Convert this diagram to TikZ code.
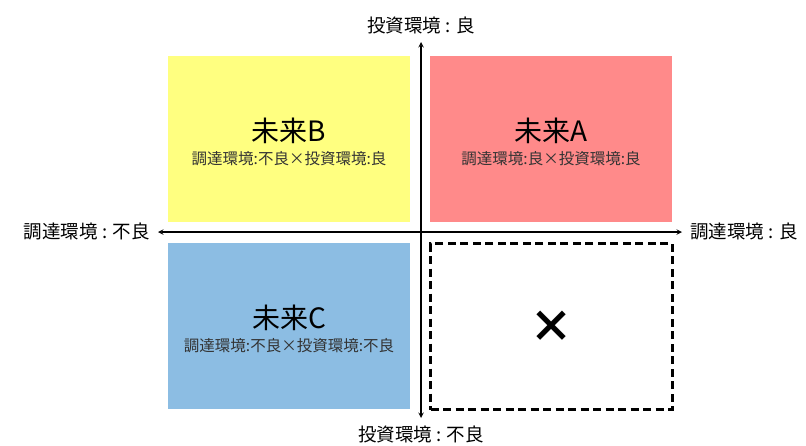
\documentclass[tikz,border=0pt]{standalone}
\usepackage{fontspec}
\setmainfont{Noto Sans CJK JP}
\usepackage{tikz}
\usetikzlibrary{arrows}
\usetikzlibrary{positioning}
\definecolor{myellow}{rgb}{1.0, 1.0, 0.5}
\definecolor{mred}{rgb}{1.0, 0.54, 0.54}
\definecolor{mblue}{rgb}{0.55, 0.74, 0.89}
\tikzset{
  quad/.style={minimum width=242pt, minimum height=166pt, inner sep=0pt},
  qtitle/.style={font=\fontsize{28}{30}\selectfont, inner sep=0pt},
  qsub/.style={font=\fontsize{15.5}{17}\selectfont, text=black!80, inner sep=0pt},
  axislabel/.style={font=\fontsize{18.5}{20}\selectfont, inner sep=2pt},
  axis/.style={<->, >=stealth, line width=1.4pt, shorten <=6pt, shorten >=6pt}
}

\begin{document}
\begin{tikzpicture}[x=1pt, y=-1pt]
    \useasboundingbox (0, 0) rectangle (806, 445);

    % quadrants
    \node [quad, fill=myellow] (futB) at (289, 138.5) {};
    \node [quad, fill=mred] (futA) at (551, 138.5) {};
    \node [quad, fill=mblue] (futC) at (289, 326) {};
    \node [quad, draw, dashed, line width=2.8pt, dash pattern=on 8pt off 4.5pt] (none) at (551.5, 326.5) {\fontsize{44}{44}\selectfont\bfseries ×};

    \node [qtitle] (titleB) at ([yshift=8pt]futB.center) {未来B};
    \node [qsub] (subB) at ([yshift=-20pt]futB.center) {調達環境:不良×投資環境:良};
    \node [qtitle] (titleA) at ([yshift=8pt]futA.center) {未来A};
    \node [qsub] (subA) at ([yshift=-20pt]futA.center) {調達環境:良×投資環境:良};
    \node [qtitle] (titleC) at ([yshift=8pt]futC.center) {未来C};
    \node [qsub] (subC) at ([yshift=-20pt]futC.center) {調達環境:不良×投資環境:不良};

    % axis labels
    \node [axislabel, anchor=east] (procBad) at (152, 232) {調達環境 : 不良};
    \node [axislabel, anchor=west] (procGood) at (688, 232) {調達環境 : 良};
    \node [axislabel, anchor=south] (invGood) at (421, 36) {投資環境 : 良};
    \node [axislabel, anchor=north] (invBad) at (421, 424) {投資環境 : 不良};

    \draw [axis] (procBad) -- (procGood);
    \draw [axis] (invGood) -- (invBad);
  \end{tikzpicture}
\end{document}
